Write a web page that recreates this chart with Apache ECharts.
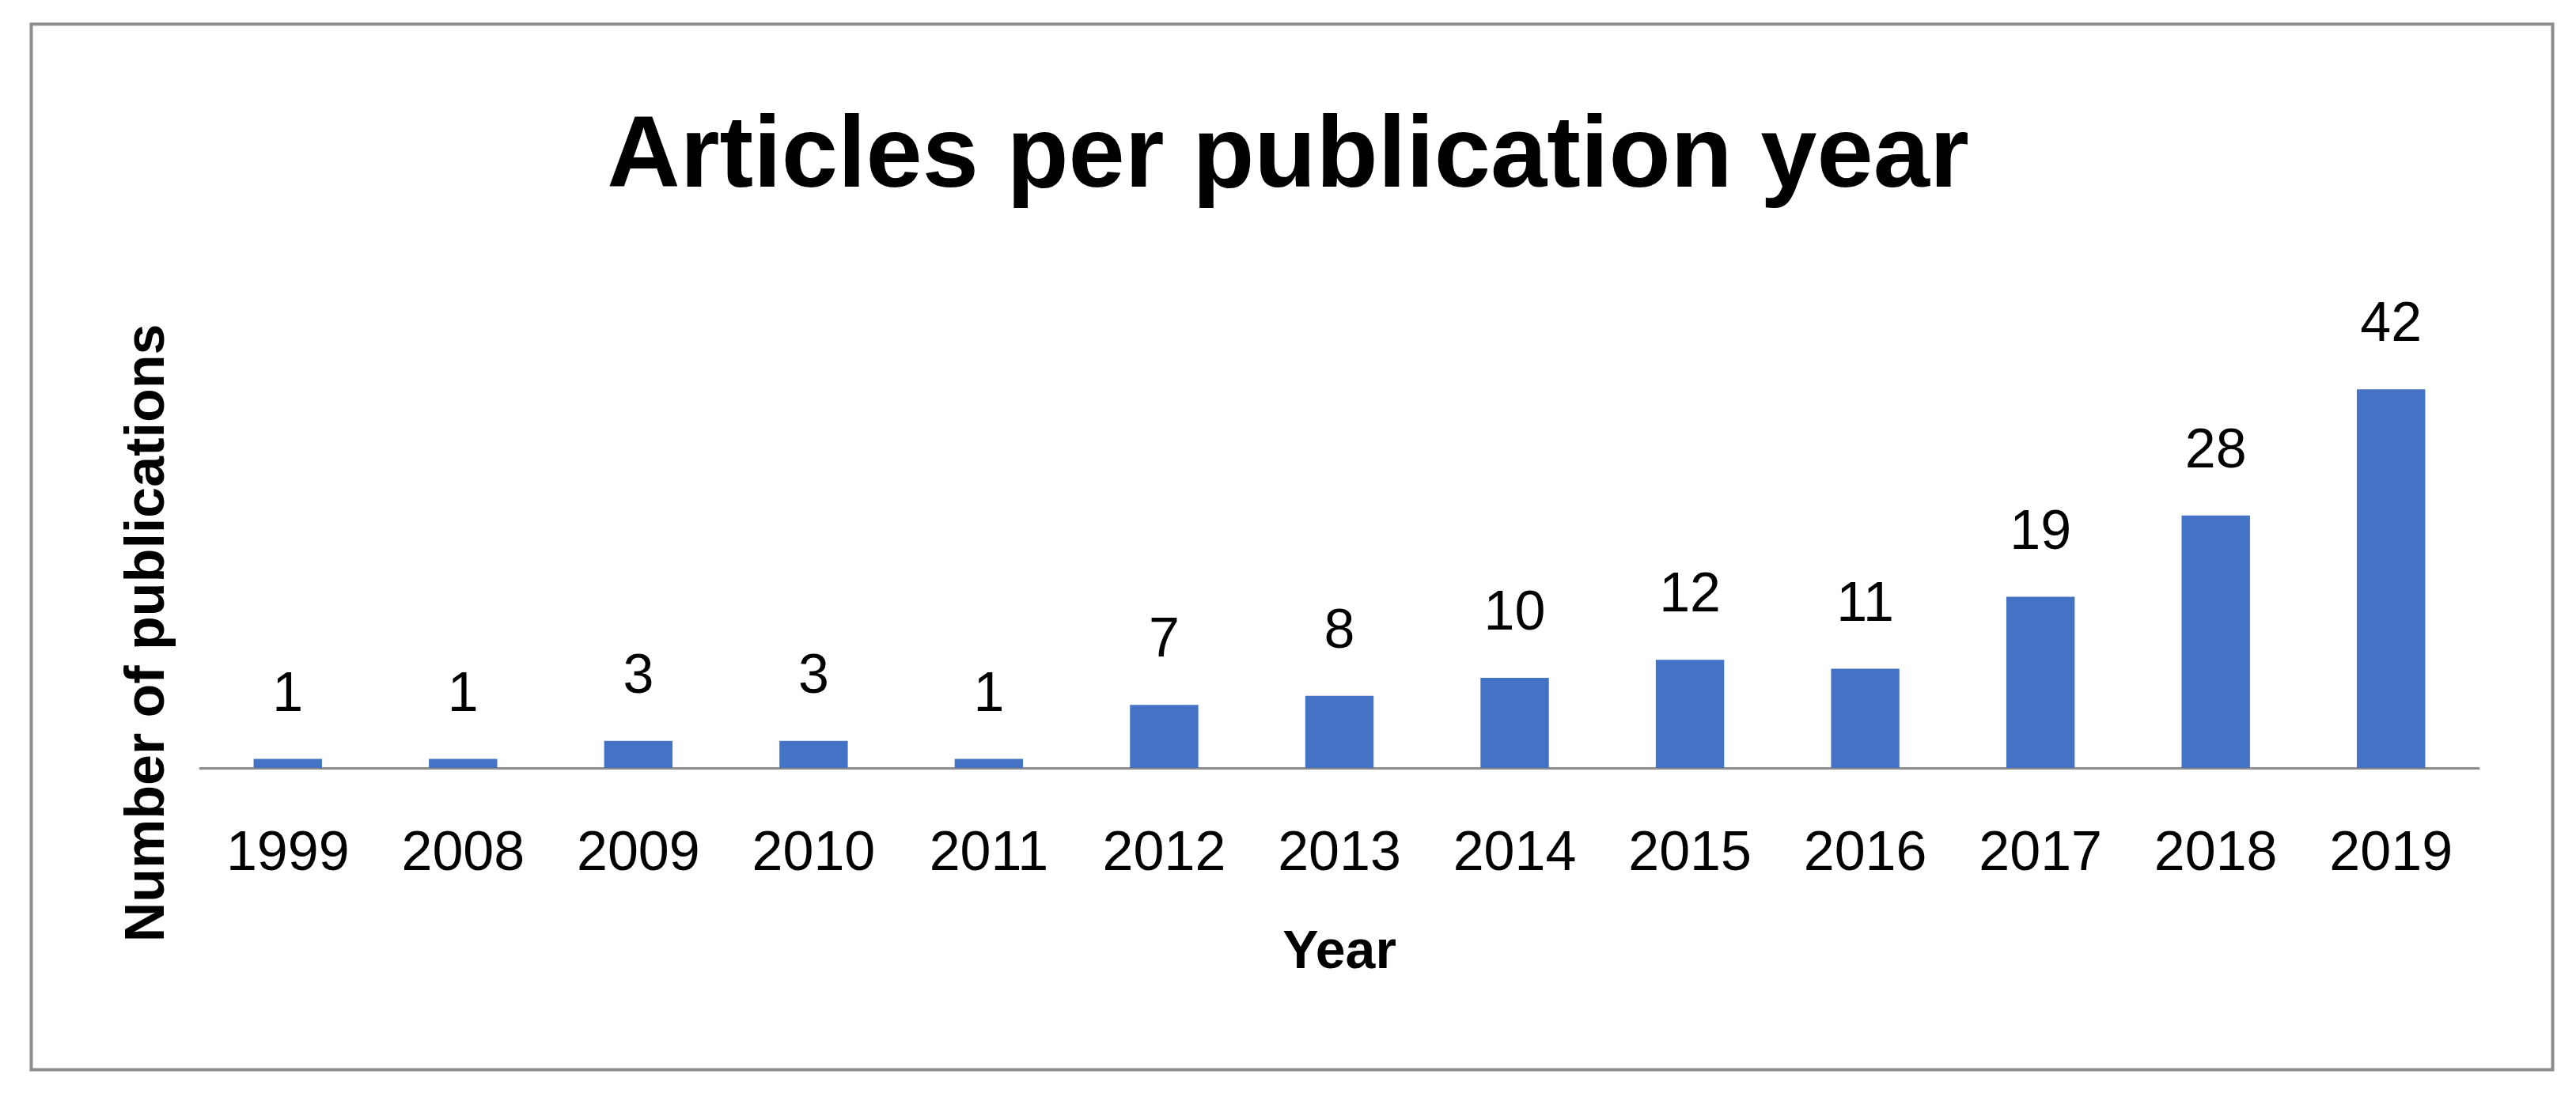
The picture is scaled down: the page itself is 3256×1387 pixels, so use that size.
<!DOCTYPE html>
<html>
<head>
<meta charset="utf-8">
<script src="https://cdn.jsdelivr.net/npm/echarts@6/dist/echarts.min.js"></script>
<style>
html,body{margin:0;padding:0;background:#fff;}
#chart{width:3256px;height:1387px;}
</style>
</head>
<body>
<div id="chart"></div>
<script>
const years = ['1999','2008','2009','2010','2011','2012','2013','2014','2015','2016','2017','2018','2019'];
const counts = [1,1,3,3,1,7,8,10,12,11,19,28,42];
const titleText = 'Articles per publication year';
const xTitle = 'Year';
const yTitle = 'Number of publications';

const chart = echarts.init(document.getElementById('chart'), null, {renderer:'canvas'});
const FONT = '"Liberation Sans", Arial, sans-serif';
chart.setOption({
  backgroundColor:'#ffffff',
  animation:false,
  title:{
    text:titleText, left:'center', top:132,
    textStyle:{fontFamily:FONT, fontWeight:'bold', fontSize:128, color:'#000'}
  },
  graphic:[{
    type:'rect', left:37, top:28, z:-1,
    shape:{width:3187, height:1322},
    style:{fill:'none', stroke:'#8c8c8c', lineWidth:4}
  }],
  grid:{left:253, right:123, top:458, bottom:416, containLabel:false},
  xAxis:{
    type:'category', data:years,
    name:xTitle, nameLocation:'middle', nameGap:200,
    nameTextStyle:{fontFamily:FONT, fontWeight:'bold', fontSize:68, color:'#000'},
    axisLine:{show:true, lineStyle:{color:'#8c8c8c', width:3}},
    axisTick:{show:false},
    axisLabel:{fontFamily:FONT, fontSize:70, color:'#000', margin:75}
  },
  yAxis:{
    type:'value', min:0, max:45, interval:5,
    name:yTitle, nameLocation:'middle', nameGap:30,
    nameTextStyle:{fontFamily:FONT, fontWeight:'bold', fontSize:70, color:'#000', padding:[0,172,0,0]},
    axisLine:{show:false}, axisTick:{show:false}, axisLabel:{show:false}, splitLine:{show:false}
  },
  series:[{
    type:'bar', data:counts, barWidth:'39%',
    itemStyle:{color:'#4472C4'},
    label:{show:true, position:'top', distance:45, fontFamily:FONT, fontSize:70, color:'#000'}
  }]
});
</script>
</body>
</html>
